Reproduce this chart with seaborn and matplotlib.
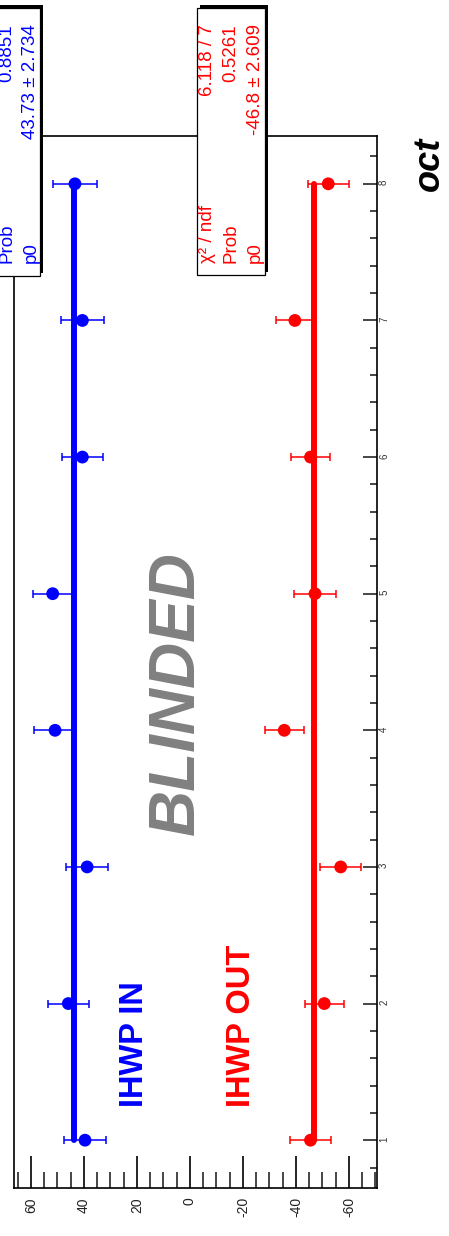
import numpy as np
import pandas as pd
import matplotlib
matplotlib.use("Agg")
import matplotlib.pyplot as plt
import seaborn as sns
from matplotlib.patches import Rectangle
from matplotlib.ticker import MultipleLocator

# ---------------- data ----------------
octants = [1, 2, 3, 4, 5, 6, 7, 8]
ihwp_in_vals = [39.6, 45.9, 38.8, 50.9, 51.8, 40.6, 40.6, 43.4]
ihwp_in_errs = [7.8, 7.7, 8.0, 8.0, 7.5, 7.7, 8.0, 8.2]
ihwp_out_vals = [-45.5, -50.7, -56.9, -35.6, -47.2, -45.5, -39.6, -52.2]
ihwp_out_errs = [7.7, 7.4, 7.7, 7.4, 7.8, 7.3, 7.2, 7.7]

fit_in_p0 = 43.73
fit_out_p0 = -46.8

stat_in_labels = ["Prob", "p0"]
stat_in_values = ["0.8851", "43.73 \u00b1 2.734"]
stat_out_labels = ["\u03c7\u00b2 / ndf", "Prob", "p0"]
stat_out_values = ["6.118 / 7", "0.5261", "-46.8 \u00b1 2.609"]

x_major_ticks = [-60, -40, -20, 0, 20, 40, 60]
oct_ticks = octants

BLUE = "#0000ff"
RED = "#ff0000"

# ---------------- style ----------------
sns.set_theme(style="white")
plt.rcParams["font.family"] = ["Liberation Sans", "DejaVu Sans"]
plt.rcParams["axes.unicode_minus"] = False

W, H = 449, 1236
fig = plt.figure(figsize=(W / 100, H / 100), dpi=100)
fig.patch.set_facecolor("white")


def fx(px):
    return px / W


def fy(py):
    return 1 - py / H


ax = fig.add_axes([fx(14), fy(1188), (377 - 14) / W, (1188 - 136) / H])
ax.set_facecolor("white")
ax.set_xlim(66.4, -70.6)
ax.set_ylim(0.65, 8.35)

df = pd.DataFrame({
    "oct": octants * 2,
    "asym": ihwp_in_vals + ihwp_out_vals,
    "err": ihwp_in_errs + ihwp_out_errs,
    "state": ["IN"] * len(octants) + ["OUT"] * len(octants),
})

# fit lines
for p0, c in [(fit_in_p0, BLUE), (fit_out_p0, RED)]:
    sns.lineplot(x=[p0, p0], y=[min(octants), max(octants)], orient="y",
                 estimator=None, sort=False, color=c, lw=4.3, ax=ax, zorder=2)

# error bars
for st, c in [("IN", BLUE), ("OUT", RED)]:
    sub = df[df["state"] == st]
    ax.errorbar(sub["asym"], sub["oct"], xerr=sub["err"], fmt="none",
                ecolor=c, elinewidth=1.1, capsize=3, capthick=1.1, zorder=3)

# points
sns.scatterplot(data=df, x="asym", y="oct", hue="state",
                palette={"IN": BLUE, "OUT": RED}, s=85, linewidth=0,
                legend=False, ax=ax, zorder=4)

ax.set_xlabel("")
ax.set_ylabel("")

# spines
for sp in ax.spines.values():
    sp.set_visible(True)
    sp.set_color("black")
    sp.set_linewidth(1.2)

# bottom axis (value)
ax.set_xticks(x_major_ticks)
ax.set_xticklabels([str(t) for t in x_major_ticks])
ax.xaxis.set_minor_locator(MultipleLocator(5))
ax.tick_params(axis="x", which="major", direction="in", length=23, width=1.2,
               bottom=True, top=False, labelbottom=True, labelrotation=90,
               pad=6.5, labelsize=10, colors="black")
ax.tick_params(axis="x", which="minor", direction="in", length=11.5, width=1.2,
               bottom=True, top=False)
for lab in ax.get_xticklabels():
    lab.set_color("#222222")

# right axis (octant)
ax.yaxis.tick_right()
ax.set_yticks(oct_ticks)
ax.set_yticklabels([str(t) for t in oct_ticks])
ax.yaxis.set_minor_locator(MultipleLocator(0.2))
ax.tick_params(axis="y", which="major", direction="in", length=10, width=1.2,
               right=True, left=False, labelright=True, labelleft=False,
               labelrotation=90, pad=1.5, labelsize=7)
ax.tick_params(axis="y", which="minor", direction="in", length=5, width=1.2,
               right=True, left=False)
for lab in ax.get_yticklabels():
    lab.set_color("#333333")
ax.grid(False)

# axis title
fig.text(fx(429), fy(137), "oct", rotation=90, ha="center", va="top",
         fontsize=26, fontweight="bold", fontstyle="italic", color="black")

# BLINDED
fig.text(fx(177), fy(693), "BLINDED", rotation=90, ha="center", va="center",
         fontsize=46, fontweight="bold", fontstyle="italic", color="#808080")

# legend texts
fig.text(fx(134.5), fy(1107), "IHWP IN", rotation=90, ha="center", va="bottom",
         fontsize=23.5, fontweight="bold", color=BLUE)
fig.text(fx(242), fy(1107), "IHWP OUT", rotation=90, ha="center", va="bottom",
         fontsize=23.5, fontweight="bold", color=RED)


# stat boxes
def stat_box(x0, x1, y0, y1, rows_x, labels, values, color):
    fig.add_artist(Rectangle((fx(x0 + 3), fy(y1 - 3)), (x1 - x0) / W, (y1 - y0) / H,
                             transform=fig.transFigure, facecolor="black",
                             edgecolor="black", lw=0, zorder=10))
    fig.add_artist(Rectangle((fx(x0), fy(y1)), (x1 - x0) / W, (y1 - y0) / H,
                             transform=fig.transFigure, facecolor="white",
                             edgecolor="black", lw=0.9, zorder=11))
    for xc, lab, val in zip(rows_x, labels, values):
        fig.text(fx(xc), fy(263), lab, rotation=90, ha="center", va="bottom",
                 fontsize=13.5, color=color, zorder=12)
        fig.text(fx(xc), fy(24), val, rotation=90, ha="center", va="top",
                 fontsize=13.5, color=color, zorder=12)


stat_box(-30, 40, 8, 276, [7, 31], stat_in_labels, stat_in_values, BLUE)
stat_box(197, 265, 8, 275, [207, 231, 255], stat_out_labels, stat_out_values, RED)

fig.savefig("out.png", dpi=100, facecolor="white")
